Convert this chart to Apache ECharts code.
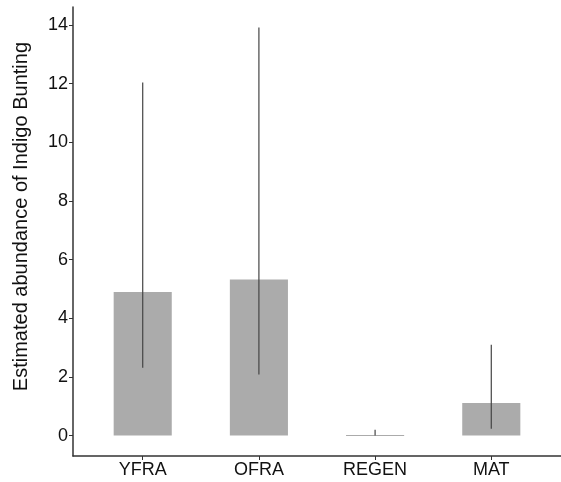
<!DOCTYPE html>
<html>
<head>
<meta charset="utf-8">
<script src="https://cdn.jsdelivr.net/npm/echarts@6/dist/echarts.min.js"></script>
<style>
  html, body { margin: 0; padding: 0; background: #fff; }
  #chart { width: 561px; height: 482px; }
</style>
</head>
<body>
<div id="chart"></div>
<script>
// habitat categories and model estimates
const categories = ["YFRA", "OFRA", "REGEN", "MAT"];
const estimates = [4.90, 5.32, 0.02, 1.11];
const lower = [2.31, 2.08, 0.0, 0.23];
const upper = [12.04, 13.92, 0.20, 3.10];
const yTicks = [0, 2, 4, 6, 8, 10, 12, 14];

const fontFamily = "'Liberation Sans', Arial, sans-serif";
const positions = categories.map((c, i) => i + 1);

const chart = echarts.init(document.getElementById("chart"));

chart.setOption({
  animation: false,
  grid: { left: 73, top: 7, width: 489, height: 449 },
  xAxis: {
    type: "value",
    min: 0.4,
    max: 4.6,
    axisLine: { show: true, onZero: false, lineStyle: { color: "#333", width: 1.5 } },
    axisTick: { show: true, length: 4, customValues: positions, lineStyle: { color: "#333" } },
    axisLabel: {
      customValues: positions,
      formatter: (v) => categories[Math.round(v) - 1],
      color: "#111",
      fontSize: 18,
      fontFamily: fontFamily,
      margin: 5
    },
    splitLine: { show: false }
  },
  yAxis: {
    type: "value",
    min: -0.696,
    max: 14.616,
    axisLine: { show: true, onZero: false, lineStyle: { color: "#333", width: 1.5 } },
    axisTick: { show: true, length: 4, customValues: yTicks, lineStyle: { color: "#333" } },
    axisLabel: {
      customValues: yTicks,
      color: "#111",
      fontSize: 18,
      fontFamily: fontFamily,
      margin: 5
    },
    splitLine: { show: false }
  },
  graphic: [{
    type: "text",
    left: 11,
    top: 42,
    rotation: Math.PI / 2,
    style: {
      text: "Estimated abundance of Indigo Bunting",
      fontSize: 20,
      fontFamily: fontFamily,
      fill: "#111"
    }
  }],
  series: [
    {
      // bars
      type: "custom",
      data: estimates.map((v, i) => [positions[i], v]),
      renderItem: (params, api) => {
        const x = api.value(0);
        const y = api.value(1);
        const p1 = api.coord([x - 0.25, y]);
        const p2 = api.coord([x + 0.25, 0]);
        return {
          type: "rect",
          shape: { x: p1[0], y: p1[1], width: p2[0] - p1[0], height: Math.max(p2[1] - p1[1], 1) },
          style: { fill: "#ababab" }
        };
      }
    },
    {
      // confidence intervals
      type: "custom",
      data: positions.map((p, i) => [p, lower[i], upper[i]]),
      renderItem: (params, api) => {
        const x = api.value(0);
        const lo = api.coord([x, api.value(1)]);
        const hi = api.coord([x, api.value(2)]);
        return {
          type: "line",
          shape: { x1: lo[0], y1: lo[1], x2: hi[0], y2: hi[1] },
          style: { stroke: "#444", lineWidth: 1.2 }
        };
      }
    }
  ]
});
</script>
</body>
</html>
